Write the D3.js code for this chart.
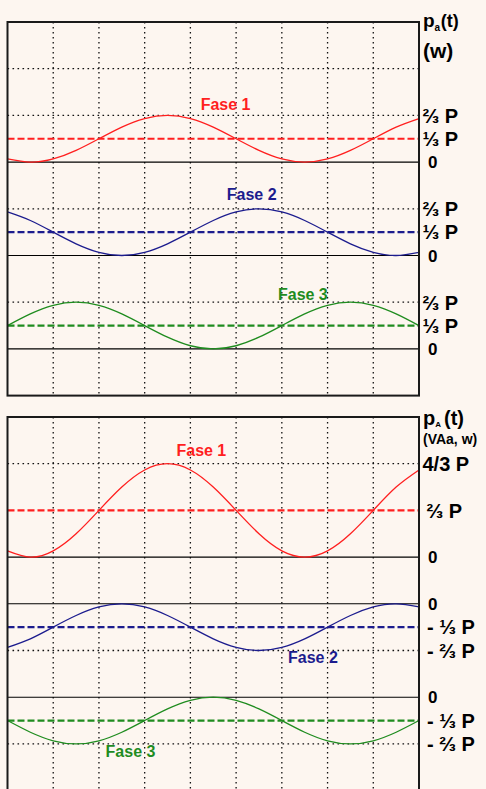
<!DOCTYPE html>
<html>
<head>
<meta charset="utf-8">
<script src="https://cdnjs.cloudflare.com/ajax/libs/d3/7.8.5/d3.min.js"></script>
<style>
  body { margin: 0; background: #fdf6f0; }
  svg { display: block; }
  text { font-family: "Liberation Sans", Arial, Helvetica, sans-serif; font-weight: bold; }
</style>
</head>
<body>
<div class="chart"></div>
<script>
var width = 486;
var height = 789;

// tiempo, en divisiones de la reticula (un periodo = 6 divisiones)
let tDiv = [0, 0.5, 1, 1.5, 2, 2.5, 3, 3.5, 4, 4.5, 5, 5.5, 6, 6.5, 7, 7.5, 8, 8.5, 9];

// p_a(t), en unidades de P
let paFase1 = [0.045, 0, 0.045, 0.167, 0.333, 0.5, 0.622, 0.667, 0.622, 0.5, 0.333, 0.167, 0.045, 0, 0.045, 0.167, 0.333, 0.5, 0.622];
let paFase2 = [0.622, 0.5, 0.333, 0.167, 0.045, 0, 0.045, 0.167, 0.333, 0.5, 0.622, 0.667, 0.622, 0.5, 0.333, 0.167, 0.045, 0, 0.045];
let paFase3 = [0.333, 0.5, 0.622, 0.667, 0.622, 0.5, 0.333, 0.167, 0.045, 0, 0.045, 0.167, 0.333, 0.5, 0.622, 0.667, 0.622, 0.5, 0.333];
let paMedia = [1 / 3, 1 / 3, 1 / 3];

// p_A(t), en unidades de P
let pAFase1 = [0.089, 0, 0.089, 0.333, 0.667, 1, 1.244, 1.333, 1.244, 1, 0.667, 0.333, 0.089, 0, 0.089, 0.333, 0.667, 1, 1.244];
let pAFase2 = [-0.622, -0.5, -0.333, -0.167, -0.045, 0, -0.045, -0.167, -0.333, -0.5, -0.622, -0.667, -0.622, -0.5, -0.333, -0.167, -0.045, 0, -0.045];
let pAFase3 = [-0.333, -0.5, -0.622, -0.667, -0.622, -0.5, -0.333, -0.167, -0.045, 0, -0.045, -0.167, -0.333, -0.5, -0.622, -0.667, -0.622, -0.5, -0.333];
let pAMedia = [2 / 3, -1 / 3, -1 / 3];

// marcas del eje
let paTicks = [0, 1 / 3, 2 / 3];
let paTickLabels = ['0', '⅓ P', '⅔ P'];
let pATicks1 = [0, 2 / 3, 4 / 3];
let pATickLabels1 = ['0', '⅔ P', '4/3 P'];
let pATicksNeg = [0, -1 / 3, -2 / 3];
let pATickLabelsNeg = ['0', '- ⅓ P', '- ⅔ P'];

let faseNames = ['Fase 1', 'Fase 2', 'Fase 3'];
let faseColors = ['#ff1f1f', '#1c1c8e', '#1f8c1f'];

// layout
let rowH = 46.7;
let panelTops = [22, 417];
let x = d3.scaleLinear().domain([0, 9]).range([7.5, 419]);

let bands = [
  {panel: 0, zeroRow: 3, values: paFase1, mean: paMedia[0], ticks: paTicks, labels: paTickLabels, grid: [2 / 3, 4 / 3], lab: [4.77, 0.74]},
  {panel: 0, zeroRow: 5, values: paFase2, mean: paMedia[1], ticks: paTicks, labels: paTickLabels, grid: [2 / 3], lab: [5.34, 0.79]},
  {panel: 0, zeroRow: 7, values: paFase3, mean: paMedia[2], ticks: paTicks, labels: paTickLabels, grid: [2 / 3], lab: [6.46, 0.70]},
  {panel: 1, zeroRow: 3, values: pAFase1, mean: pAMedia[0], ticks: pATicks1, labels: pATickLabels1, grid: [4 / 3], lab: [4.24, 1.44]},
  {panel: 1, zeroRow: 4, values: pAFase2, mean: pAMedia[1], ticks: pATicksNeg, labels: pATickLabelsNeg, grid: [-2 / 3], lab: [6.68, -0.84]},
  {panel: 1, zeroRow: 6, values: pAFase3, mean: pAMedia[2], ticks: pATicksNeg, labels: pATickLabelsNeg, grid: [-2 / 3], lab: [2.69, -0.85]}
];
bands.forEach((b, i) => {
  b.color = faseColors[i % 3];
  b.name = faseNames[i % 3];
  let z = panelTops[b.panel] + b.zeroRow * rowH;
  b.y = d3.scaleLinear().domain([0, 2 / 3]).range([z, z - rowH]);
});

let svg = d3.select('.chart')
  .append('svg')
  .attr('width', width)
  .attr('height', height);

svg.append('rect')
  .attr('width', width)
  .attr('height', height)
  .style('fill', '#fdf6f0');

// reticula vertical
panelTops.forEach(top => {
  svg.append('g')
    .selectAll('line')
    .data(d3.range(1, 9))
    .enter()
    .append('line')
    .attr('x1', d => x(d))
    .attr('x2', d => x(d))
    .attr('y1', top)
    .attr('y2', top + 8 * rowH)
    .style('stroke', '#111')
    .style('stroke-width', 1.3)
    .style('stroke-dasharray', '1.6,3.4');
});

let line = d3.line()
  .curve(d3.curveNatural);

bands.forEach(b => {
  let g = svg.append('g');

  // reticula horizontal
  g.selectAll('.grid')
    .data(b.grid)
    .enter()
    .append('line')
    .attr('x1', x(0))
    .attr('x2', x(9))
    .attr('y1', d => b.y(d))
    .attr('y2', d => b.y(d))
    .style('stroke', '#111')
    .style('stroke-width', 1.3)
    .style('stroke-dasharray', '1.6,3.4');

  // linea de cero
  g.append('line')
    .attr('x1', x(0))
    .attr('x2', x(9))
    .attr('y1', b.y(0))
    .attr('y2', b.y(0))
    .style('stroke', '#000')
    .style('stroke-width', 1.1);

  // valor medio
  g.append('line')
    .attr('x1', x(0))
    .attr('x2', x(9))
    .attr('y1', b.y(b.mean))
    .attr('y2', b.y(b.mean))
    .style('stroke', b.color)
    .style('stroke-width', 2.2)
    .style('stroke-dasharray', '7,3');

  // curva
  line.x((d, i) => x(tDiv[i])).y(d => b.y(d));
  g.append('path')
    .datum(b.values)
    .attr('d', line)
    .style('fill', 'none')
    .style('stroke', b.color)
    .style('stroke-width', 1.3);

  g.append('text')
    .attr('x', x(b.lab[0]))
    .attr('y', b.y(b.lab[1]))
    .style('text-anchor', 'middle')
    .style('font-size', '16px')
    .style('fill', b.color)
    .text(b.name);

  // eje derecho
  let axis = d3.axisRight(b.y)
    .tickValues(b.ticks)
    .tickFormat((d, i) => b.labels[i])
    .tickSize(0)
    .tickPadding(0);
  let ag = g.append('g')
    .attr('transform', `translate(422, 0)`)
    .call(axis);
  ag.select('.domain').remove();
  ag.selectAll('text')
    .attr('font-family', null)
    .style('fill', '#000')
    .style('font-size', d => d === 0 ? '17px' : '20px')
    .attr('x', (d, i) => d === 0 ? 6 : (b.labels[i].charAt(0) === '-' ? 5 : (b.panel === 1 && d > 0 && d < 1 ? 4.5 : 0.5)))
    .attr('dy', '0.34em');
});

// marcos
panelTops.forEach(top => {
  svg.append('rect')
    .attr('x', x(0))
    .attr('y', top)
    .attr('width', x(9) - x(0))
    .attr('height', 8 * rowH)
    .style('fill', 'none')
    .style('stroke', '#1a1a1a')
    .style('stroke-width', 2);
});

// titulos de los ejes
let t1 = svg.append('text').attr('x', 423).attr('y', 27);
t1.append('tspan').style('font-size', '19px').text('p');
t1.append('tspan').style('font-size', '10px').attr('dy', 4).text('a');
t1.append('tspan').style('font-size', '18px').attr('dx', 0.5).attr('dy', -4).text('(t)');
svg.append('text')
  .attr('x', 423)
  .attr('y', 58)
  .style('font-size', '21px')
  .text('(w)');

let t2 = svg.append('text').attr('x', 423).attr('y', 425);
t2.append('tspan').style('font-size', '20px').text('p');
t2.append('tspan').style('font-size', '8px').attr('dy', 1.5).text('A');
t2.append('tspan').style('font-size', '20px').attr('dx', 3).attr('dy', -1.5).text('(t)');
svg.append('text')
  .attr('x', 423)
  .attr('y', 444)
  .style('font-size', '14px')
  .text('(VAa, w)');
</script>
</body>
</html>
